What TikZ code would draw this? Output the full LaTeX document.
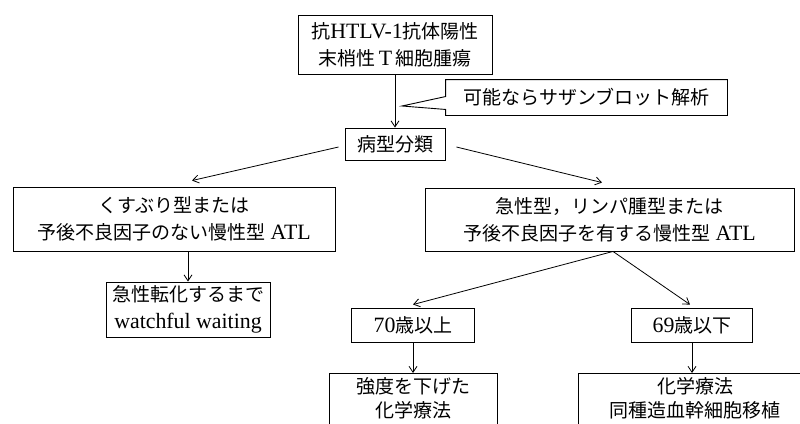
\documentclass[tikz,border=0pt]{standalone}
\usepackage{fontspec}
\setmainfont{Liberation Serif}[Scale=1.15]
\newfontfamily\cjk{Noto Sans CJK JP}
\usetikzlibrary{calc,arrows.meta}
\newcommand\J[1]{{\cjk #1}}
\begin{document}
\begin{tikzpicture}[x=1pt,y=-1pt,
  box/.style={draw, line width=0.9pt, inner sep=0pt, align=center,
    font=\fontsize{19}{27}\selectfont},
  cutbox/.style={box, anchor=north, inner xsep=0pt, inner ysep=4pt,
    font=\fontsize{19}{24}\selectfont, text depth=22pt},
  arr/.style={-{Straight Barb[length=6pt,width=8pt]}, line width=0.8pt}]
\useasboundingbox (0,0) rectangle (800,423);
\fill[white] (0,0) rectangle (800,423);
\clip (0,0) rectangle (800,423);

\node[box, minimum width=194pt, minimum height=59pt] (top) at (395,44.5)
  {\J{抗}HTLV-1\J{抗体陽性}\\\J{末梢性}\,T\,\J{細胞腫瘍}};
\node[box, minimum width=100pt, minimum height=32pt] (bunrui) at (395,144) {\J{病型分類}};
\node[box, draw=none, minimum width=281pt, minimum height=35pt] (callout) at (586.5,97.5)
  {\J{可能ならサザンブロット解析}};
\coordinate (tip) at (402,106);
\draw[line width=0.9pt] (callout.north west) -- (callout.north east) -- (callout.south east)
  -- (callout.south west) -- ($(callout.south west)+(0,-6)$) -- (tip)
  -- ($(callout.north west)+(0,17)$) -- cycle;

\node[box, minimum width=322pt, minimum height=64pt] (left) at (174,219)
  {\J{くすぶり型または}\\\J{予後不良因子のない慢性型}\ ATL};
\node[box, minimum width=369pt, minimum height=63pt] (right) at (609.5,219.5)
  {\J{急性型，リンパ腫型または}\\\J{予後不良因子を有する慢性型}\ ATL};
\node[box, minimum width=164pt, minimum height=55pt] (watch) at (188,309.5)
  {\J{急性転化するまで}\\watchful waiting};
\node[box, minimum width=123pt, minimum height=34pt] (age70) at (413,325) {70\J{歳以上}};
\node[box, minimum width=121pt, minimum height=34pt] (age69) at (692,325) {69\J{歳以下}};
\node[cutbox, minimum width=168pt] (b1) at (413,373)
  {\J{強度を下げた}\\\J{化学療法}};
\node[cutbox, minimum width=234pt] (b2) at (695,373)
  {\J{化学療法}\\\J{同種造血幹細胞移植}};

\draw[arr] (top.south) -- (bunrui.north);
\draw[arr] ($(bunrui.west)+(-6,3)$) -- ($(left.north)+(18,-6)$);
\draw[arr] ($(bunrui.east)+(11,3)$) -- ($(right.north)+(-7.5,-5)$);
\draw[arr] (watch.north |- left.south) -- (watch.north);
\draw[arr] ($(right.south)+(3.5,0)$) -- ($(age70.north)+(0,-3)$);
\draw[arr] ($(right.south)+(3.5,0)$) -- ($(age69.north)+(-2,-3)$);
\draw[arr] (age70.south) -- (b1.north);
\draw[arr] (age69.south) -- (age69.south |- b2.north);
\end{tikzpicture}
\end{document}
